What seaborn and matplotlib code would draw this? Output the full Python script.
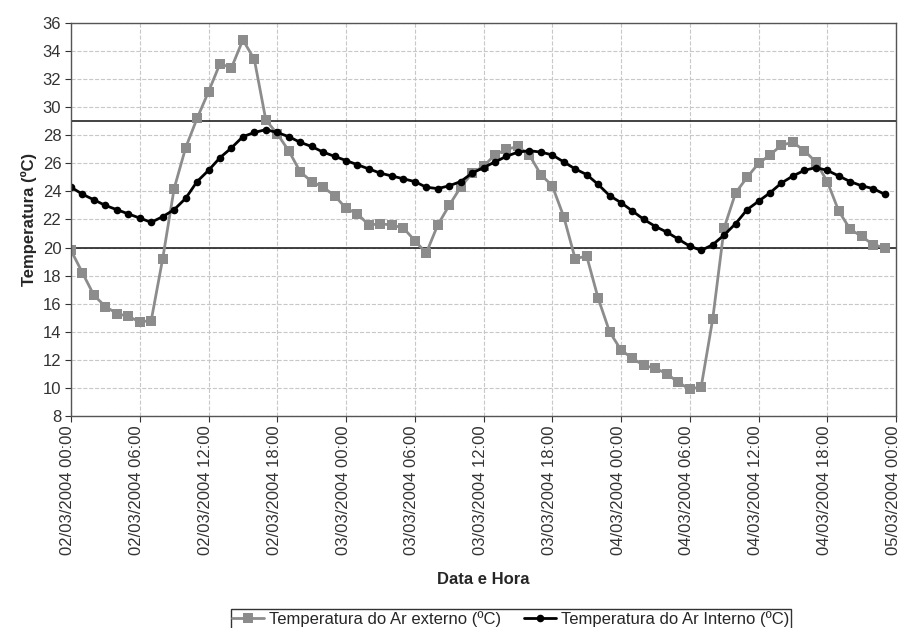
import pandas as pd
import seaborn as sns
import matplotlib.pyplot as plt
import matplotlib.dates as mdates
from matplotlib.transforms import ScaledTranslation

# hourly readings, 02/03/2004 00:00 .. 04/03/2004 23:00
horas = pd.date_range("2004-03-02 00:00", periods=72, freq="h")

t_externo = [19.8, 18.2, 16.6, 15.8, 15.3, 15.1, 14.7, 14.8, 19.2, 24.2,
             27.1, 29.2, 31.1, 33.1, 32.8, 34.8, 33.4, 29.1, 28.1, 26.9,
             25.4, 24.7, 24.3, 23.7, 22.8, 22.4, 21.6, 21.7, 21.6, 21.4,
             20.5, 19.6, 21.6, 23.0, 24.3, 25.3, 25.8, 26.6, 27.0, 27.2,
             26.6, 25.2, 24.4, 22.2, 19.2, 19.4, 16.4, 14.0, 12.7, 12.1,
             11.6, 11.4, 11.0, 10.4, 9.9, 10.1, 14.9, 21.4, 23.9, 25.0,
             26.0, 26.6, 27.3, 27.5, 26.9, 26.1, 24.7, 22.6, 21.3, 20.8,
             20.2, 20.0]

t_interno = [24.3, 23.8, 23.4, 23.0, 22.7, 22.4, 22.1, 21.8, 22.2, 22.7,
             23.5, 24.7, 25.5, 26.4, 27.1, 27.9, 28.2, 28.4, 28.2, 27.9,
             27.5, 27.2, 26.8, 26.5, 26.2, 25.9, 25.6, 25.3, 25.1, 24.9,
             24.7, 24.3, 24.2, 24.4, 24.7, 25.3, 25.7, 26.1, 26.5, 26.8,
             26.9, 26.8, 26.6, 26.1, 25.6, 25.2, 24.5, 23.7, 23.2, 22.6,
             22.0, 21.5, 21.1, 20.6, 20.1, 19.8, 20.2, 20.9, 21.7, 22.7,
             23.3, 23.9, 24.6, 25.1, 25.5, 25.7, 25.5, 25.1, 24.7, 24.4,
             24.2, 23.8]

limites = [20, 29]

df = pd.DataFrame({"hora": horas, "externo": t_externo, "interno": t_interno})

sns.set_style("white")
plt.rcParams["font.family"] = ["Liberation Sans", "DejaVu Sans"]

fig = plt.figure(figsize=(9.01, 6.28), dpi=100)
ax = fig.add_axes([0.0788, 0.3376, 0.9157, 0.6258])

sns.lineplot(data=df, x="hora", y="externo", ax=ax, color="#8c8c8c",
             marker="s", markersize=7.5, markeredgewidth=0, linewidth=2,
             label="Temperatura do Ar externo (ºC)")
sns.lineplot(data=df, x="hora", y="interno", ax=ax, color="black",
             marker="o", markersize=5.5, markeredgewidth=0, linewidth=2,
             label="Temperatura do Ar Interno (ºC)")

for v in limites:
    ax.axhline(v, color="#222222", linewidth=1.2, zorder=1)

ax.set_ylim(8, 36)
ax.set_yticks(range(8, 37, 2))
ax.set_xlim(pd.Timestamp("2004-03-02 00:00"), pd.Timestamp("2004-03-05 00:00"))
ax.xaxis.set_major_locator(mdates.HourLocator(byhour=[0, 6, 12, 18]))
ax.xaxis.set_major_formatter(mdates.DateFormatter("%d/%m/%Y %H:%M"))
ax.tick_params(axis="both", labelsize=12, colors="#333333", length=4,
               direction="out", bottom=True, left=True, pad=3)
# nudge rotated labels a little left, like the original
off = ScaledTranslation(-3 / 100, 0, fig.dpi_scale_trans)
for lab in ax.get_xticklabels():
    lab.set_rotation(90)
    lab.set_transform(lab.get_transform() + off)

ax.grid(True, color="#c8c8c8", linestyle="--", linewidth=0.8)
for s in ax.spines.values():
    s.set_color("#555555")
    s.set_linewidth(1)

ax.set_xlabel("Data e Hora", fontsize=12, fontweight="bold", labelpad=12)
ax.set_ylabel("Temperatura (ºC)", fontsize=12, fontweight="bold", labelpad=4)

ax.get_legend().remove()
h, l = ax.get_legend_handles_labels()
fig.legend(h, l, loc="upper center", bbox_to_anchor=(0.567, 1 - 601 / 628), ncol=2,
           frameon=True, fancybox=False, edgecolor="black", fontsize=12,
           handlelength=1.9, handletextpad=0.3, columnspacing=1.4, borderpad=0.1)

fig.savefig("out.png", dpi=100)
